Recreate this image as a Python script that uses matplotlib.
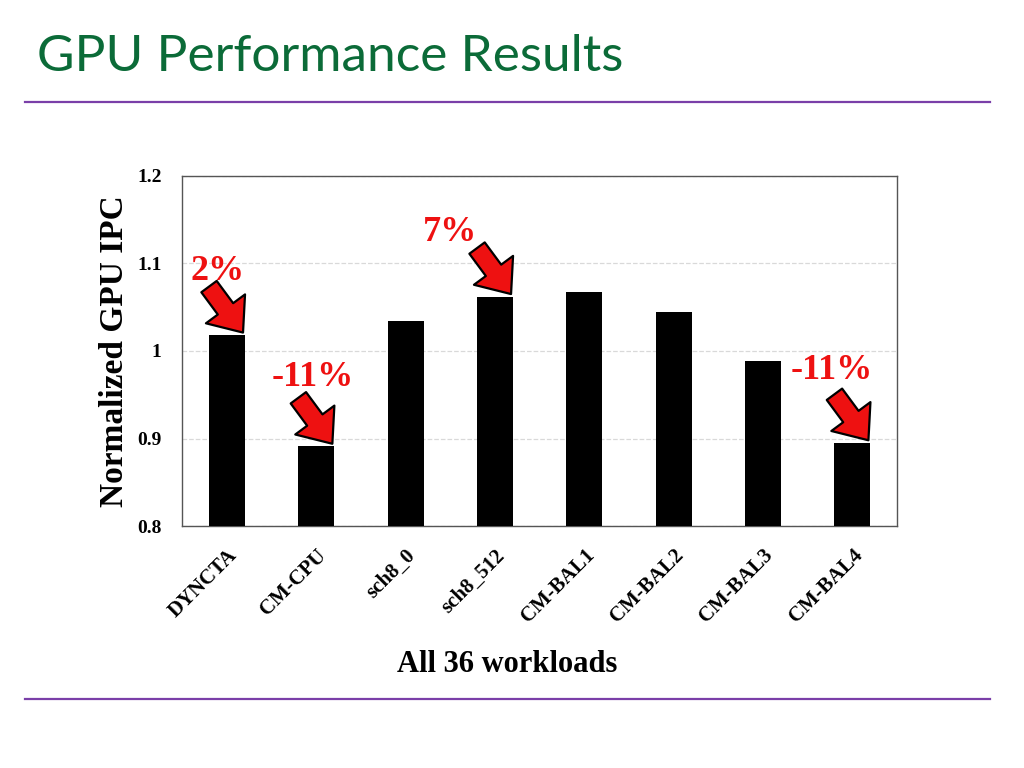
import matplotlib.pyplot as plt

workloads = ['DYNCTA', 'CM-CPU', 'sch8_0', 'sch8_512', 'CM-BAL1', 'CM-BAL2', 'CM-BAL3', 'CM-BAL4']
ipc = [1.018, 0.891, 1.034, 1.062, 1.067, 1.045, 0.989, 0.895]
yticks = [0.8, 0.9, 1.0, 1.1, 1.2]
ytick_labels = ['0.8', '0.9', '1', '1.1', '1.2']
# labelled bars: index, text
callouts = [(0, '2%'), (1, '-11%'), (3, '7%'), (7, '-11%')]

serif = 'Liberation Serif'

fig = plt.figure(figsize=(10.24, 7.68), dpi=100)
fig.text(0.036, 0.926, 'GPU Performance Results', fontsize=37, color='#0b6b38',
         family='Lato', va='center', ha='left')
fig.add_artist(plt.Line2D([0.024, 0.967], [0.867, 0.867], color='#7a3fa8', lw=1.6))
fig.add_artist(plt.Line2D([0.024, 0.967], [0.090, 0.090], color='#7a3fa8', lw=1.6))

ax = fig.add_axes([0.178, 0.315, 0.698, 0.456])
x = range(len(workloads))
ax.bar(x, ipc, width=0.4, color='black', zorder=3)
ax.set_xlim(-0.5, len(workloads) - 0.5)
ax.set_ylim(0.8, 1.2)
ax.set_yticks(yticks)
ax.set_yticklabels(ytick_labels, fontsize=14, fontweight='bold', family=serif)
ax.set_xticks(list(x))
ax.set_xticklabels(workloads, rotation=45, ha='right', rotation_mode='anchor',
                   fontsize=15, fontweight='bold', family=serif)
ax.tick_params(length=0)
ax.tick_params(axis='y', pad=15)
ax.tick_params(axis='x', pad=14)
ax.grid(axis='y', color='#d9d9d9', ls='--', lw=0.9, zorder=0)
for s in ax.spines.values():
    s.set_color('#555555')
    s.set_linewidth(1.0)
ax.set_ylabel('Normalized GPU IPC', fontsize=24, fontweight='bold', family=serif, labelpad=5)
ax.set_xlabel('All 36 workloads', fontsize=22, fontweight='bold', family=serif)
ax.xaxis.set_label_coords(0.455, -0.355)

text_off = {0: (-9, 64), 1: (-4, 69), 3: (-45, 64), 7: (-21, 72)}
for i, t in callouts:
    v = ipc[i]
    ax.annotate(t, xy=(i, v), xytext=text_off[i], textcoords='offset pixels',
                ha='center', va='center', fontsize=26, fontweight='bold',
                family=serif, color='#ee1111')
    ax.annotate('', xy=(i + 0.18, v + 0.003), xytext=(-34, 46), textcoords='offset pixels',
                arrowprops=dict(arrowstyle='simple,head_length=0.85,head_width=1.4,tail_width=0.55',
                                mutation_scale=25, fc='#ee1111', ec='black', lw=1.6,
                                shrinkA=0, shrinkB=0), zorder=5)

fig.savefig('out.png', dpi=100)
